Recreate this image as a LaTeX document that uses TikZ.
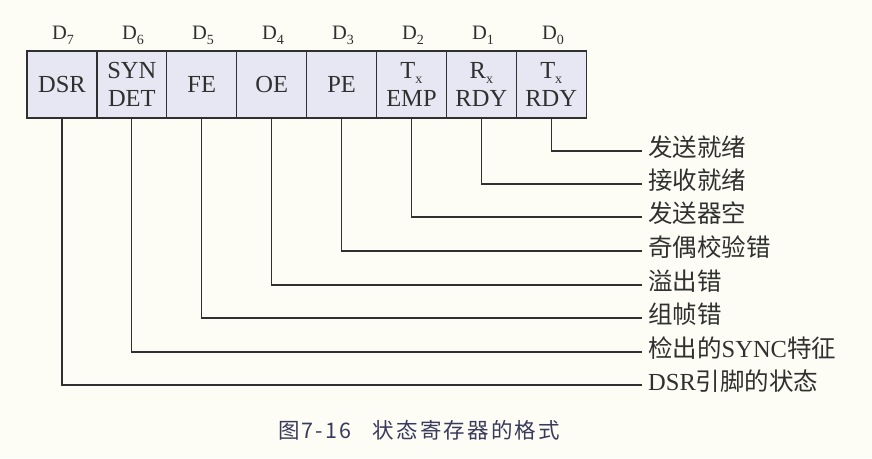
\documentclass[tikz,border=0pt]{standalone}
\usepackage{fontspec}
\setmainfont{Liberation Serif}
\newfontfamily\cjk{Noto Sans CJK SC}
\newfontfamily\cjkcap[LetterSpace=10]{Noto Sans CJK SC}
\definecolor{bgc}{HTML}{FDFDF6}
\definecolor{cellfill}{HTML}{E7E7F3}
\definecolor{linec}{HTML}{303030}
\definecolor{capc}{HTML}{3A3A5C}
\newcommand\mysub[1]{\raisebox{-5pt}{\fontsize{14}{14}\selectfont #1}}
\begin{document}
\begin{tikzpicture}[x=1pt,y=-1pt,
  cell/.style={draw=linec, fill=cellfill, line width=1.2pt, minimum width=69.9pt,
    minimum height=67pt, inner sep=0pt, align=center, text=linec,
    font=\fontsize{24.5}{28}\selectfont},
  bitlbl/.style={anchor=base, inner sep=0pt, text=linec, font=\fontsize{20.5}{20}\selectfont},
  desc/.style={anchor=west, inner xsep=6pt, inner ysep=0pt, text=linec,
    text height=1.05em, text depth=0em, font=\cjk\fontsize{24.5}{24}\selectfont},
  wire/.style={draw=linec, line width=1.2pt},
  captxt/.style={text=capc, inner sep=0pt, font=\cjkcap\fontsize{21.5}{21}\selectfont}]
\fill[bgc] (0,0) rectangle (872,458);
\useasboundingbox (0,0) rectangle (872,458);
% cells
\node[cell] (c7) at (61.95,84.5) {DSR};
\node[cell] (c6) at (131.85,84.5) {SYN\\DET};
\node[cell] (c5) at (201.75,84.5) {FE};
\node[cell] (c4) at (271.65,84.5) {OE};
\node[cell] (c3) at (341.55,84.5) {PE};
\node[cell] (c2) at (411.45,84.5) {T\mysub{x}\\EMP};
\node[cell] (c1) at (481.35,84.5) {R\mysub{x}\\RDY};
\node[cell] (c0) at (551.25,84.5) {T\mysub{x}\\RDY};
% bit labels
\node[bitlbl] (b7) at (63,39) {D\mysub{7}};
\node[bitlbl] (b6) at (133,39) {D\mysub{6}};
\node[bitlbl] (b5) at (203,39) {D\mysub{5}};
\node[bitlbl] (b4) at (273,39) {D\mysub{4}};
\node[bitlbl] (b3) at (343,39) {D\mysub{3}};
\node[bitlbl] (b2) at (413,39) {D\mysub{2}};
\node[bitlbl] (b1) at (483,39) {D\mysub{1}};
\node[bitlbl] (b0) at (553,39) {D\mysub{0}};
% descriptions
\node[desc] (l0) at (642,151) {发送就绪};
\node[desc] (l1) at (642,184) {接收就绪};
\node[desc] (l2) at (642,217) {发送器空};
\node[desc] (l3) at (642,251) {奇偶校验错};
\node[desc] (l4) at (642,285) {溢出错};
\node[desc] (l5) at (642,318) {组帧错};
\node[desc] (l6) at (642,352) {检出的\textrm{SYNC}特征};
\node[desc] (l7) at (642,385) {\textrm{DSR}引脚的状态};
% wires
\foreach \i in {0,...,7} {
  \draw[wire] (c\i.south) |- (l\i.west);
}
% caption
\node[captxt] (cap) at (419,430) {图7-16\quad 状态寄存器的格式};
\end{tikzpicture}
\end{document}
